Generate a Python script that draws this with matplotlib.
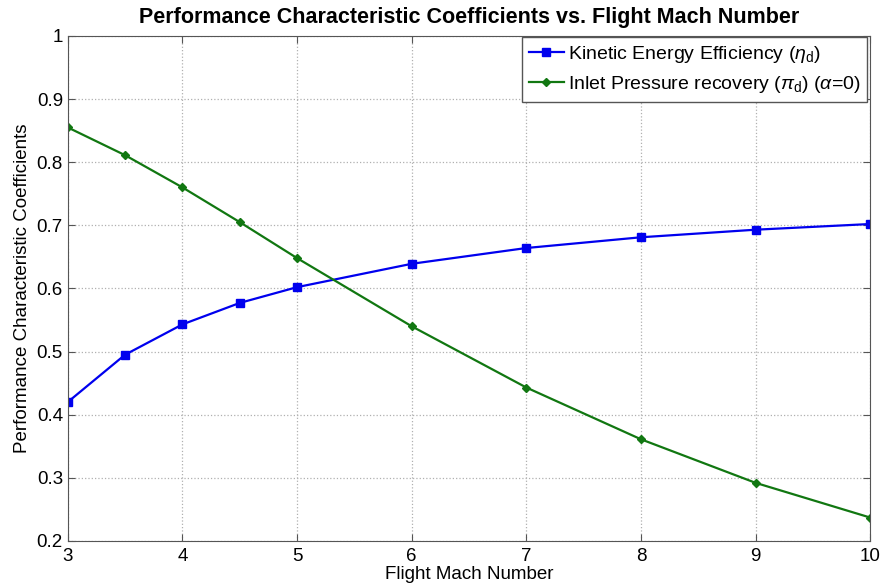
import matplotlib
matplotlib.use("Agg")
import matplotlib.pyplot as plt

plt.rcParams["font.family"] = ["Liberation Sans", "DejaVu Sans"]
plt.rcParams["mathtext.fontset"] = "custom"
plt.rcParams["mathtext.rm"] = "Liberation Sans"
plt.rcParams["mathtext.it"] = "Liberation Sans:italic"

mach = [3, 3.5, 4, 4.5, 5, 6, 7, 8, 9, 10]
eta_d = [0.420, 0.495, 0.543, 0.577, 0.602, 0.639, 0.664, 0.681, 0.693, 0.702]
pi_d = [0.855, 0.811, 0.760, 0.705, 0.648, 0.540, 0.443, 0.361, 0.292, 0.237]

xticks = [3, 4, 5, 6, 7, 8, 9, 10]
yticks = [0.2, 0.3, 0.4, 0.5, 0.6, 0.7, 0.8, 0.9, 1.0]
ytick_labels = ["0.2", "0.3", "0.4", "0.5", "0.6", "0.7", "0.8", "0.9", "1"]

fig = plt.figure(figsize=(8.8, 5.88), dpi=100)
ax = fig.add_axes([0.077, 0.080, 0.912, 0.859])

ax.plot(mach, eta_d, color="#0000ee", lw=1.6, marker="s", ms=5.5,
        label=r"Kinetic Energy Efficiency ($\eta_{\rm d}$)")
ax.plot(mach, pi_d, color="#117711", lw=1.6, marker="D", ms=4,
        label=r"Inlet Pressure recovery ($\pi_{\rm d}$) ($\alpha$=0)")

ax.set_xlim(3, 10)
ax.set_ylim(0.2, 1.0)
ax.set_xticks(xticks)
ax.set_yticks(yticks)
ax.set_yticklabels(ytick_labels)
ax.tick_params(labelsize=13.5, direction="in", length=5, top=True, right=True,
               color="#555555")
ax.tick_params(axis="x", pad=5)
ax.grid(True, color="#b0b0b0", linestyle=":", linewidth=0.9)
for s in ax.spines.values():
    s.set_color("#555555")

ax.set_xlabel("Flight Mach Number", fontsize=13.5, labelpad=1)
ax.set_ylabel("Performance Characteristic Coefficients", fontsize=13.5, labelpad=4)
ax.set_title("Performance Characteristic Coefficients vs. Flight Mach Number",
             fontsize=15.5, fontweight="bold", pad=9)

leg = ax.legend(loc="upper right", bbox_to_anchor=(0.996, 0.997), borderaxespad=0,
                fontsize=14, fancybox=False, framealpha=1, edgecolor="#555555",
                handlelength=1.8, handletextpad=0.2, borderpad=0.35,
                labelspacing=0.45)

fig.savefig("out.png", dpi=100)
